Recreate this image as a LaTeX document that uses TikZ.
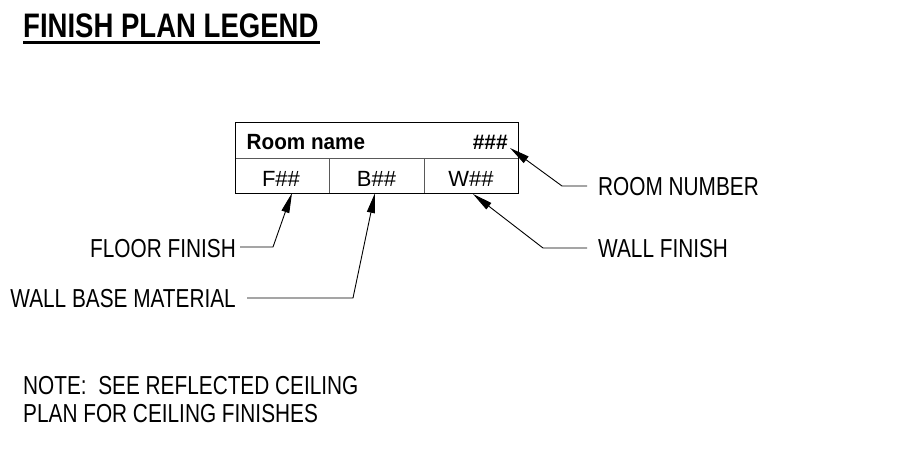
\documentclass[tikz,border=0pt]{standalone}
\usepackage{fontspec}
\setmainfont{Liberation Sans}
\newfontfamily\narrowf[FakeStretch=0.8]{Liberation Sans}
\newfontfamily\titlef[FakeStretch=0.81]{Liberation Sans}
\newfontfamily\roomf[FakeStretch=0.94]{Liberation Sans}
\usetikzlibrary{arrows.meta}
\begin{document}
\begin{tikzpicture}[x=1pt,y=-1pt,
  lbl/.style={inner sep=0pt,font=\narrowf\fontsize{26}{30}\selectfont},
  celltxt/.style={inner sep=0pt,font=\fontsize{22}{26}\selectfont},
  leader/.style={line width=0.9pt,-{Triangle[length=20pt,width=8pt]}},
  frame/.style={line width=1pt,draw=black},
  inner/.style={line width=1pt,draw=black!65}]
\useasboundingbox (0,0) rectangle (898,463);
% title
\node[inner sep=0pt,anchor=base west,font=\titlef\bfseries\fontsize{34}{38}\selectfont] (title) at (23,37) {FINISH PLAN LEGEND};
\draw[line width=3pt] (23,42.3) -- (320,42.3);
% box
\draw[inner] (235,158) -- (518,158);
\draw[inner] (329,158) -- (329,193);
\draw[inner] (424,158) -- (424,193);
\draw[frame] (235,122) rectangle (518,193);
\node[inner sep=0pt,anchor=base west,font=\roomf\bfseries\fontsize{22}{25}\selectfont] (rname) at (246.5,149.3) {Room name};
\node[inner sep=0pt,anchor=base east,font=\bfseries\fontsize{21}{25}\selectfont] (rnum) at (508,149.3) {\#\#\#};
\node[celltxt,anchor=base] (ff) at (281,186) {F\#\#};
\node[celltxt,anchor=base] (bb) at (376.5,186) {B\#\#};
\node[celltxt,anchor=base] (ww) at (471,186) {W\#\#};
% labels
\node[lbl,anchor=west] (lroom) at (598,186.5) {ROOM NUMBER};
\node[lbl,anchor=west] (lwall) at (598,248.5) {WALL FINISH};
\node[lbl,anchor=east] (lfloor) at (236,249) {FLOOR FINISH};
\node[lbl,anchor=east] (lbase) at (236,298.5) {WALL BASE MATERIAL};
% coordinates
\coordinate (troom) at (510,148);
\coordinate (broom) at (562,186);
\coordinate (twall) at (473,194);
\coordinate (bwall) at (543,248);
\coordinate (tfloor) at (292,193);
\coordinate (bfloor) at (273,247);
\coordinate (tbase) at (375,193);
\coordinate (bbase) at (353,298);
% leaders
\draw[leader] ([xshift=-11pt]lroom.west |- broom) -- (broom) -- (troom);
\draw[leader] ([xshift=-11pt]lwall.west |- bwall) -- (bwall) -- (twall);
\draw[leader] ([xshift=4pt]lfloor.east |- bfloor) -- (bfloor) -- (tfloor);
\draw[leader] ([xshift=11pt]lbase.east |- bbase) -- (bbase) -- (tbase);
% note
\node[lbl,anchor=base west] (note1) at (23,394) {NOTE:\ \ SEE REFLECTED CEILING};
\node[lbl,anchor=base west] (note2) at (23,422) {PLAN FOR CEILING FINISHES};
\end{tikzpicture}
\end{document}
